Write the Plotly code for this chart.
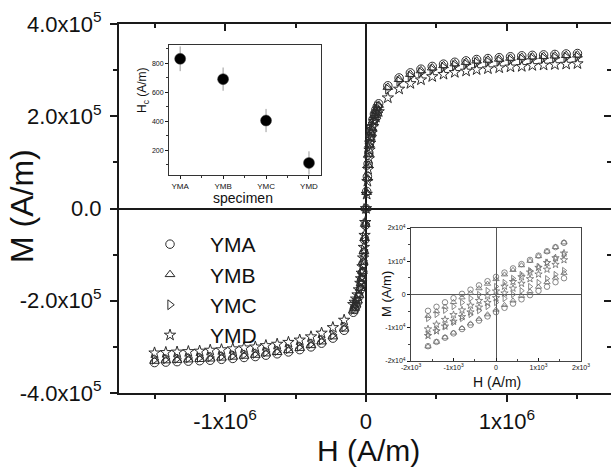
import numpy as np
import plotly.graph_objects as go

FONT = "Liberation Sans, Arial, sans-serif"
INK = "#1a1a1a"
W, H = 611, 467

# ---------------- main hysteresis data ----------------
specimens = ["YMA", "YMB", "YMC", "YMD"]
symbols = ["circle-open", "triangle-up-open", "triangle-right-open", "star-open"]

# applied field, kA/m
H_main_kAm = [-1500, -1420, -1340, -1260, -1180, -1105, -1025, -945, -865, -785, -710, -630,
              -550, -470, -390, -315, -235, -155,
              -90, -80, -70, -60, -50, -40, -35, -30, -25, -20, -15, -10, -5,
              0,
              5, 10, 15, 20, 25, 30, 35, 40, 50, 60, 70, 80, 90,
              155, 235, 315, 390, 470, 550, 630, 710, 785, 865, 945, 1025, 1105, 1180,
              1260, 1340, 1420, 1500]

# magnetisation, units of 1e5 A/m
M_YMA = [-3.34, -3.33, -3.32, -3.31, -3.30, -3.29, -3.27, -3.25, -3.23, -3.21, -3.18, -3.15,
         -3.11, -3.06, -3.00, -2.92, -2.81, -2.64,
         -2.25, -2.19, -2.12, -2.03, -1.91, -1.76, -1.66, -1.54, -1.39, -1.19, -0.96, -0.68, -0.36,
         0.00,
         0.37, 0.69, 0.97, 1.21, 1.41, 1.56, 1.68, 1.78, 1.93, 2.05, 2.14, 2.21, 2.27,
         2.66, 2.83, 2.94, 3.02, 3.08, 3.13, 3.17, 3.20, 3.23, 3.25, 3.27, 3.29, 3.31, 3.32,
         3.33, 3.34, 3.35, 3.36]
M_YMB = [-3.31, -3.30, -3.29, -3.28, -3.27, -3.26, -3.24, -3.22, -3.20, -3.18, -3.15, -3.12,
         -3.08, -3.03, -2.97, -2.89, -2.78, -2.61,
         -2.22, -2.16, -2.09, -2.00, -1.88, -1.73, -1.63, -1.51, -1.36, -1.16, -0.93, -0.65, -0.34,
         0.00,
         0.35, 0.66, 0.94, 1.18, 1.38, 1.53, 1.65, 1.75, 1.90, 2.02, 2.11, 2.18, 2.24,
         2.63, 2.80, 2.91, 2.99, 3.05, 3.10, 3.14, 3.17, 3.20, 3.22, 3.24, 3.26, 3.28, 3.29,
         3.30, 3.31, 3.32, 3.33]
M_YMC = [-3.27, -3.26, -3.25, -3.24, -3.23, -3.22, -3.20, -3.18, -3.16, -3.14, -3.11, -3.08,
         -3.04, -2.99, -2.93, -2.85, -2.74, -2.57,
         -2.19, -2.13, -2.06, -1.97, -1.85, -1.70, -1.60, -1.48, -1.33, -1.13, -0.90, -0.62, -0.33,
         0.00,
         0.34, 0.64, 0.92, 1.15, 1.35, 1.50, 1.62, 1.72, 1.87, 1.99, 2.08, 2.15, 2.21,
         2.59, 2.76, 2.87, 2.95, 3.01, 3.06, 3.10, 3.13, 3.16, 3.18, 3.20, 3.22, 3.24, 3.25,
         3.26, 3.27, 3.28, 3.29]
M_YMD = [-3.13, -3.12, -3.11, -3.10, -3.09, -3.07, -3.06, -3.04, -3.02, -3.00, -2.97, -2.94,
         -2.90, -2.85, -2.78, -2.70, -2.58, -2.42,
         -2.08, -2.03, -1.96, -1.87, -1.76, -1.62, -1.52, -1.40, -1.26, -1.07, -0.84, -0.58, -0.30,
         0.00,
         0.31, 0.59, 0.85, 1.08, 1.27, 1.42, 1.54, 1.64, 1.78, 1.89, 1.98, 2.05, 2.10,
         2.40, 2.59, 2.71, 2.79, 2.86, 2.91, 2.95, 2.98, 3.01, 3.03, 3.05, 3.07, 3.08, 3.10,
         3.11, 3.12, 3.13, 3.14]

# ---------------- inset 1: coercivity ----------------
Hc_values = [830, 690, 405, 113]
Hc_errors = [85, 80, 80, 80]

# ---------------- inset 2: low-field loops (A/m) ----------------
H_inset = [-1600, -1400, -1200, -1000, -800, -600, -400, -200, 0,
           200, 400, 600, 800, 1000, 1200, 1400, 1600]
YMA_up = [-4900, -3700, -2350, -1100, 200, 1450, 2750, 4000, 5300, 6600, 7850, 9150, 10400, 11700, 13000, 14250, 15550]
YMA_dn = [-15550, -14250, -13000, -11700, -10400, -9150, -7850, -6600, -5300, -4000, -2750, -1450, -200, 1100, 2350, 3700, 4900]
YMB_up = [-6450, -5050, -3700, -2300, -900, 450, 1850, 3200, 4600, 6000, 7350, 8750, 10100, 11500, 12900, 14250, 15650]
YMB_dn = [-15650, -14250, -12900, -11500, -10100, -8750, -7350, -6000, -4600, -3200, -1850, -450, 900, 2300, 3700, 5050, 6450]
YMC_up = [-7200, -6000, -4750, -3600, -2400, -1150, 0, 1200, 2400, 3600, 4850, 6000, 7200, 8400, 9650, 10800, 12000]
YMC_dn = [-12000, -10800, -9650, -8400, -7200, -6000, -4850, -3600, -2400, -1200, 0, 1150, 2400, 3600, 4750, 6000, 7200]
YMD_up = [-10400, -9000, -7550, -6100, -4700, -3300, -1850, -400, 1000, 2450, 3850, 5300, 6700, 8100, 9550, 11000, 12400]
YMD_dn = [-12400, -11000, -9550, -8100, -6700, -5300, -3850, -2450, -1000, 400, 1850, 3300, 4700, 6100, 7550, 9000, 10400]

# tick labels
main_x_ticks = [-1e6, 0, 1e6]
main_x_text = ["-1x10<sup>6</sup>", "0", "1x10<sup>6</sup>"]
main_y_ticks = [-4e5, -2e5, 0, 2e5, 4e5]
main_y_text = ["-4.0x10<sup>5</sup>", "-2.0x10<sup>5</sup>", "0.0", "2.0x10<sup>5</sup>", "4.0x10<sup>5</sup>"]
in2_x_ticks = [-2000, -1000, 0, 1000, 2000]
in2_x_text = ["-2x10<sup>3</sup>", "-1x10<sup>3</sup>", "0", "1x10<sup>3</sup>", "2x10<sup>3</sup>"]
in2_y_ticks = [-2e4, -1e4, 0, 1e4, 2e4]
in2_y_text = ["-2x10<sup>4</sup>", "-1x10<sup>4</sup>", "0", "1x10<sup>4</sup>", "2x10<sup>4</sup>"]
in1_y_ticks = [200, 400, 600, 800]

fig = go.Figure()

H_main = np.array(H_main_kAm, dtype=float) * 1e3
main_series = [M_YMA, M_YMB, M_YMC, M_YMD]
for name, sym, M in zip(specimens, symbols, main_series):
    fig.add_trace(go.Scatter(
        x=H_main, y=np.array(M) * 1e5, mode="markers", name=name,
        marker=dict(symbol=sym, size=8.5, color="#2b2b2b", line=dict(width=1, color="#2b2b2b")),
        xaxis="x", yaxis="y"))

# dummy traces to make overlay axes render
fig.add_trace(go.Scatter(x=[None], y=[None], xaxis="x2", yaxis="y", showlegend=False, hoverinfo="skip"))
fig.add_trace(go.Scatter(x=[None], y=[None], xaxis="x", yaxis="y2", showlegend=False, hoverinfo="skip"))

# inset 1
fig.add_trace(go.Scatter(
    x=[1, 2, 3, 4], y=Hc_values, mode="markers", showlegend=False,
    error_y=dict(type="data", array=Hc_errors, color="#9a9a9a", thickness=1, width=0),
    marker=dict(symbol="circle", size=11, color="#000000",
                line=dict(width=0.5, color="#444")),
    xaxis="x3", yaxis="y3"))

# inset 2
inset_pairs = [(YMA_up, YMA_dn), (YMB_up, YMB_dn), (YMC_up, YMC_dn), (YMD_up, YMD_dn)]
for sym, (up, dn) in zip(symbols, inset_pairs):
    for branch in (up, dn):
        fig.add_trace(go.Scatter(
            x=H_inset, y=branch, mode="markers", showlegend=False,
            marker=dict(symbol=sym, size=5.5, color="#6a6a6a", line=dict(width=0.8, color="#6a6a6a")),
            xaxis="x4", yaxis="y4"))

xd = [119 / W, 1.0]
yd = [1 - 393 / H, 1 - 24 / H]
xr = [-1.752e6, 1.738e6]
yr = [-4e5, 4e5]

axis_common = dict(showgrid=False, tickcolor=INK, automargin=False,
                   tickfont=dict(family=FONT, color="#111"))

fig.update_layout(
    template="none",
    width=W, height=H,
    margin=dict(l=0, r=0, t=0, b=0, pad=0),
    paper_bgcolor="white", plot_bgcolor="rgba(0,0,0,0)",
    font=dict(family=FONT, color="#111"),
    showlegend=True,
    legend=dict(x=130 / W, y=1 - 224 / H, xanchor="left", yanchor="top",
                bgcolor="rgba(0,0,0,0)", borderwidth=0,
                font=dict(size=21, family=FONT, color="#111"),
                itemwidth=70, tracegroupgap=0),
    xaxis=dict(**axis_common, domain=xd, range=xr, anchor="y", linecolor=INK,
               showline=True, linewidth=2, ticks="outside", ticklen=7, tickwidth=2,
               tickmode="array", tickvals=main_x_ticks, ticktext=main_x_text,
               tickfont_size=22, ticklabelstandoff=1,
               minor=dict(tickmode="array", tickvals=[-1.5e6, -0.5e6, 0.5e6, 1.5e6],
                          ticks="outside", ticklen=4, tickwidth=2, tickcolor=INK),
               zeroline=True, zerolinecolor=INK, zerolinewidth=1.5),
    xaxis2=dict(showgrid=False, overlaying="x", side="top", anchor="y", range=xr, automargin=False,
                showline=True, linewidth=2, linecolor=INK,
                ticks="inside", ticklen=7, tickwidth=2, tickcolor=INK,
                tickmode="array", tickvals=main_x_ticks, showticklabels=False,
                minor=dict(tickmode="array", tickvals=[-1.5e6, -0.5e6, 0.5e6, 1.5e6],
                           ticks="inside", ticklen=4, tickwidth=2, tickcolor=INK),
                zeroline=False),
    yaxis=dict(**axis_common, domain=yd, range=yr, anchor="x", linecolor=INK,
               showline=True, linewidth=2, ticks="outside", ticklen=7, tickwidth=2,
               tickmode="array", tickvals=main_y_ticks, ticktext=main_y_text,
               tickfont_size=22, ticklabelstandoff=4,
               minor=dict(tickmode="array", tickvals=[-3e5, -1e5, 1e5, 3e5],
                          ticks="outside", ticklen=4, tickwidth=2, tickcolor=INK),
               zeroline=True, zerolinecolor=INK, zerolinewidth=1.5),
    yaxis2=dict(showgrid=False, overlaying="y", side="right", anchor="x", range=yr, automargin=False,
                showline=False, ticks="inside", ticklen=7, tickwidth=2, tickcolor=INK,
                tickmode="array", tickvals=main_y_ticks, showticklabels=False,
                minor=dict(tickmode="array", tickvals=[-3e5, -1e5, 1e5, 3e5],
                           ticks="inside", ticklen=4, tickwidth=2, tickcolor=INK),
                zeroline=False),
    # inset 1
    xaxis3=dict(**axis_common, domain=[169 / W, 321 / W], anchor="y3", range=[0.74, 4.28],
                showline=True, mirror=True, linewidth=1, linecolor="#333",
                ticks="outside", ticklen=3, tickwidth=1,
                tickmode="array", tickvals=[1, 2, 3, 4], ticktext=specimens, tickfont_size=8,
                minor=dict(tickmode="array", tickvals=[1.5, 2.5, 3.5], ticks="outside",
                           ticklen=2, tickwidth=1, tickcolor="#333"),
                zeroline=False),
    yaxis3=dict(**axis_common, domain=[1 - 175 / H, 1 - 45 / H], anchor="x3", range=[30, 925],
                showline=True, mirror=True, linewidth=1, linecolor="#333",
                ticks="outside", ticklen=3, tickwidth=1,
                tickmode="array", tickvals=in1_y_ticks, tickfont_size=7,
                minor=dict(tickmode="array", tickvals=[100, 300, 500, 700, 900], ticks="outside",
                           ticklen=2, tickwidth=1, tickcolor="#333"),
                zeroline=False),
    # inset 2
    xaxis4=dict(**axis_common, domain=[411 / W, 581 / W], anchor="y4", range=[-2000, 2000],
                showline=True, mirror=True, linewidth=1, linecolor="#444",
                ticks="inside", ticklen=3, tickwidth=1,
                tickmode="array", tickvals=in2_x_ticks, ticktext=in2_x_text, tickfont_size=7,
                minor=dict(tickmode="array", tickvals=[-1500, -500, 500, 1500], ticks="inside",
                           ticklen=2, tickwidth=1, tickcolor="#444"),
                zeroline=True, zerolinecolor="#555", zerolinewidth=1),
    yaxis4=dict(**axis_common, domain=[1 - 361 / H, 1 - 228 / H], anchor="x4", range=[-2e4, 2e4],
                showline=True, mirror=True, linewidth=1, linecolor="#444",
                ticks="outside", ticklen=3, tickwidth=1,
                tickmode="array", tickvals=in2_y_ticks, ticktext=in2_y_text, tickfont_size=7,
                minor=dict(tickmode="array", tickvals=[-1.5e4, -5e3, 5e3, 1.5e4], ticks="outside",
                           ticklen=2, tickwidth=1, tickcolor="#444"),
                zeroline=True, zerolinecolor="#555", zerolinewidth=1),
)

annots = [
    dict(text="M (A/m)", x=22 / W, y=1 - 206 / H, textangle=-90, size=32),
    dict(text="H (A/m)", x=368 / W, y=1 - 450 / H, textangle=0, size=30),
    dict(text="H<sub>c</sub> (A/m)", x=143 / W, y=1 - 90 / H, textangle=-90, size=12),
    dict(text="specimen", x=243 / W, y=1 - 198 / H, textangle=0, size=14),
    dict(text="H (A/m)", x=497 / W, y=1 - 382 / H, textangle=0, size=14),
    dict(text="M (A/m)", x=386 / W, y=1 - 294 / H, textangle=-90, size=13),
]
for a in annots:
    fig.add_annotation(text=a["text"], x=a["x"], y=a["y"], xref="paper", yref="paper",
                       xanchor="center", yanchor="middle", showarrow=False,
                       textangle=a["textangle"],
                       font=dict(family=FONT, size=a["size"], color="#111"))

fig.write_html("out.html")
